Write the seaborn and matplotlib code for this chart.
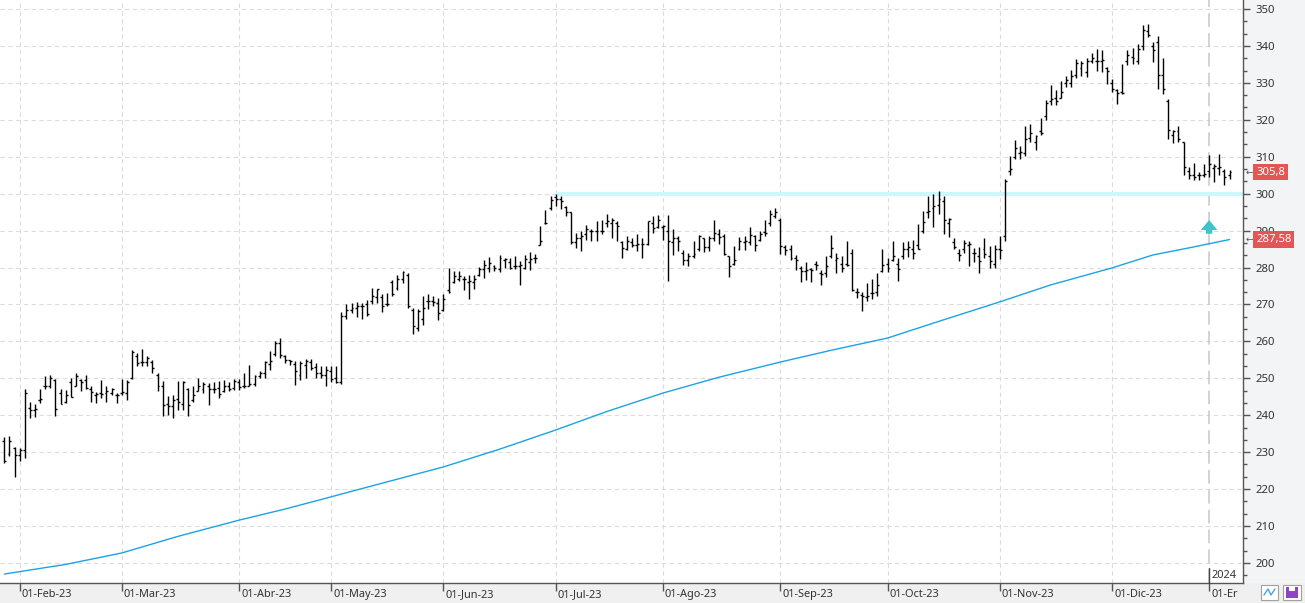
import numpy as np
import pandas as pd
import matplotlib
matplotlib.use("Agg")
import matplotlib.pyplot as plt
import seaborn as sns
from matplotlib.patches import Rectangle
from matplotlib.ticker import MultipleLocator
from matplotlib.transforms import blended_transform_factory, ScaledTranslation

# ---------------- data (daily OHLC, first bar 27-Jan-2023) ----------------
start_date = "2023-01-27"
holidays = ["2023-04-07", "2023-04-10", "2023-05-01", "2023-12-25", "2023-12-26", "2024-01-01"]

opens = [
    233.0, 229.5, 231.0, 229.3, 230.5, 242.0, 241.5, 244.0, 248.0, 248.0,
    249.5, 246.0, 243.5, 249.0, 248.0, 249.5, 249.5, 247.0, 245.5, 246.0,
    246.0, 246.0, 245.5, 246.0, 246.0, 250.0, 256.0, 254.5, 254.3, 254.5,
    251.0, 248.0, 243.0, 242.4, 244.5, 243.0, 247.0, 244.0, 246.5, 247.0,
    248.0, 247.0, 247.5, 246.5, 248.0, 247.5, 249.0, 248.0, 248.0, 248.5,
    250.5, 251.5, 254.0, 256.5, 259.5, 256.0, 255.0, 254.0, 251.0, 253.5,
    254.5, 253.0, 251.5, 251.0, 252.0, 250.0, 249.0, 267.0, 268.5, 269.0,
    269.5, 270.0, 271.0, 272.0, 272.0, 270.0, 276.0, 274.5, 277.0, 278.0,
    268.5, 263.5, 266.0, 271.0, 271.0, 270.5, 268.5, 274.0, 276.0, 277.0,
    277.0, 276.0, 276.0, 278.0, 279.5, 280.0, 280.5, 279.5, 282.0, 281.5,
    280.5, 280.5, 280.0, 281.5, 282.5, 286.0, 292.0, 296.0, 299.0, 298.5,
    296.5, 295.0, 287.0, 288.0, 289.0, 290.0, 290.0, 290.0, 292.0, 292.0,
    292.0, 287.0, 285.0, 287.0, 286.0, 286.5, 286.5, 292.0, 291.0, 291.0,
    290.0, 287.0, 288.0, 284.0, 282.0, 283.0, 285.0, 288.0, 285.5, 288.0,
    289.0, 288.5, 283.0, 281.0, 285.0, 287.0, 287.0, 288.5, 287.5, 289.5,
    292.0, 294.0, 293.0, 285.5, 285.0, 282.5, 280.0, 279.0, 279.5, 281.0,
    278.5, 278.5, 283.0, 282.0, 281.0, 281.0, 284.0, 273.5, 272.5, 272.0,
    273.0, 273.5, 279.0, 281.0, 282.0, 281.0, 283.0, 285.0, 285.0, 286.0,
    290.0, 295.0, 296.0, 297.0, 298.0, 292.0, 287.0, 284.0, 285.0, 286.0,
    284.0, 283.0, 285.0, 283.0, 281.0, 285.0, 288.5, 306.0, 310.0, 311.0,
    311.0, 315.0, 314.0, 317.0, 321.0, 325.0, 326.0, 326.0, 330.0, 330.0,
    332.0, 334.0, 333.0, 336.0, 336.0, 336.0, 334.0, 330.0, 328.0, 327.5,
    336.0, 337.0, 336.0, 340.0, 344.0, 340.0, 341.0, 332.0, 325.0, 316.0,
    317.0, 314.0, 306.0, 305.0, 305.0, 305.0, 306.0, 307.0, 307.0, 306.0,
    305.0,
]
highs = [
    234.0, 234.3, 231.4, 231.0, 247.0, 243.6, 243.0, 247.0, 250.5, 251.0,
    249.8, 247.0, 246.7, 250.2, 251.4, 249.8, 251.0, 247.8, 246.2, 249.6,
    247.8, 247.5, 246.0, 249.8, 249.6, 257.7, 256.8, 258.0, 256.1, 255.0,
    251.4, 249.2, 245.1, 245.5, 249.2, 249.2, 247.4, 247.8, 250.0, 248.9,
    248.7, 248.9, 249.2, 249.6, 248.9, 249.8, 249.8, 251.4, 253.7, 251.0,
    251.9, 254.6, 257.3, 260.0, 261.0, 256.4, 255.0, 254.6, 254.6, 255.2,
    255.2, 254.1, 253.2, 253.4, 253.2, 253.2, 268.0, 270.0, 270.5, 270.6,
    270.5, 271.2, 274.5, 274.3, 272.7, 273.0, 276.5, 277.9, 279.0, 278.4,
    269.1, 268.7, 272.4, 272.7, 272.3, 271.8, 272.7, 279.9, 279.0, 279.0,
    277.7, 277.9, 277.9, 280.2, 281.9, 282.9, 280.8, 283.4, 282.7, 282.5,
    283.1, 281.8, 283.3, 284.2, 283.6, 291.2, 295.5, 299.5, 300.0, 299.5,
    296.7, 295.0, 289.4, 289.9, 291.4, 290.3, 292.6, 293.0, 294.5, 293.5,
    292.7, 287.1, 288.5, 288.0, 289.1, 288.0, 292.7, 293.9, 294.2, 291.6,
    294.2, 290.3, 288.5, 284.8, 283.9, 287.1, 288.9, 288.0, 288.5, 293.0,
    290.5, 289.1, 283.0, 285.7, 288.2, 288.5, 291.0, 288.9, 290.0, 293.0,
    295.7, 296.0, 293.5, 286.2, 286.2, 283.5, 280.5, 281.6, 280.0, 281.8,
    279.4, 283.0, 288.9, 283.9, 283.0, 287.1, 284.9, 274.5, 273.4, 275.9,
    277.0, 278.6, 284.9, 282.7, 287.2, 282.7, 286.9, 287.2, 287.4, 291.7,
    295.3, 299.5, 299.8, 300.7, 299.4, 293.5, 288.1, 284.9, 287.4, 287.2,
    285.4, 285.6, 288.1, 285.8, 286.0, 288.5, 303.9, 310.1, 314.4, 312.8,
    318.4, 318.9, 315.9, 320.5, 325.4, 329.5, 328.1, 330.4, 331.9, 333.5,
    336.4, 335.8, 336.7, 338.0, 339.1, 338.9, 334.4, 331.0, 328.4, 335.2,
    338.8, 339.5, 340.6, 345.6, 345.9, 341.1, 342.6, 336.6, 325.5, 317.2,
    318.3, 314.0, 307.2, 308.3, 305.9, 308.1, 310.4, 308.0, 310.8, 306.8,
    306.3,
]
lows = [
    227.0, 229.0, 223.4, 227.5, 228.4, 239.2, 239.5, 243.3, 247.0, 247.4,
    239.9, 243.0, 243.3, 245.0, 247.8, 246.5, 247.0, 243.7, 243.3, 244.6,
    243.7, 245.5, 243.3, 245.5, 244.0, 249.8, 253.4, 253.2, 253.4, 251.4,
    246.5, 239.9, 240.1, 239.2, 241.5, 241.5, 239.7, 243.7, 246.5, 246.0,
    242.8, 246.0, 244.6, 246.2, 246.5, 246.9, 246.9, 247.5, 247.8, 247.8,
    250.0, 250.0, 252.3, 256.0, 255.5, 254.1, 253.7, 248.3, 249.6, 250.1,
    252.3, 250.1, 250.1, 247.8, 248.9, 248.7, 248.5, 266.0, 267.7, 266.7,
    266.1, 266.8, 270.0, 270.3, 267.9, 269.6, 272.4, 273.9, 275.9, 269.1,
    261.9, 262.8, 264.3, 268.8, 269.6, 265.8, 268.2, 273.2, 275.9, 276.3,
    273.8, 271.4, 274.1, 277.7, 277.2, 278.8, 279.0, 278.8, 279.9, 279.5,
    279.5, 275.2, 279.5, 279.3, 281.3, 286.0, 291.7, 295.6, 296.7, 295.9,
    294.0, 286.3, 285.4, 284.5, 287.4, 287.2, 287.2, 289.0, 290.9, 288.0,
    287.1, 282.5, 284.8, 285.5, 284.4, 282.7, 286.2, 289.4, 290.7, 287.5,
    276.4, 283.3, 284.4, 280.7, 280.3, 282.5, 284.4, 284.2, 284.4, 287.1,
    286.5, 283.5, 277.5, 280.7, 284.8, 284.8, 286.2, 284.4, 287.1, 288.5,
    291.2, 293.5, 283.6, 283.5, 282.1, 279.4, 276.0, 276.6, 276.0, 279.4,
    275.3, 277.5, 282.5, 278.5, 278.9, 280.5, 273.6, 271.8, 268.2, 270.9,
    271.4, 272.4, 278.8, 278.8, 281.8, 276.3, 282.2, 282.9, 282.2, 284.9,
    289.4, 293.5, 291.1, 294.4, 289.0, 288.3, 284.9, 281.8, 284.0, 280.4,
    281.5, 278.6, 282.7, 279.9, 279.9, 282.2, 287.2, 305.1, 309.4, 309.4,
    310.3, 313.9, 311.7, 315.9, 320.0, 324.1, 324.1, 325.9, 329.0, 329.0,
    331.3, 331.9, 331.7, 335.3, 333.3, 333.0, 329.6, 327.4, 324.4, 326.9,
    334.8, 335.2, 335.2, 339.0, 342.4, 335.7, 328.4, 327.1, 314.9, 313.6,
    314.1, 305.0, 304.1, 303.8, 303.8, 304.5, 304.5, 303.2, 305.0, 302.3,
    304.1,
]
closes = [
    227.5, 233.0, 229.3, 230.5, 246.0, 241.5, 241.7, 244.4, 247.8, 250.0,
    241.7, 243.0, 245.5, 245.0, 250.5, 249.0, 247.3, 246.2, 245.8, 245.8,
    246.5, 247.0, 245.5, 246.2, 249.0, 257.0, 254.1, 254.3, 255.5, 252.8,
    247.8, 242.8, 242.4, 244.2, 243.7, 248.9, 242.8, 245.5, 248.0, 248.5,
    247.1, 247.0, 245.8, 248.0, 247.1, 249.4, 247.6, 247.8, 248.4, 250.7,
    251.4, 254.3, 254.6, 259.5, 256.4, 255.0, 254.6, 251.9, 254.1, 254.6,
    252.8, 251.4, 251.0, 252.3, 249.8, 248.9, 267.0, 268.5, 269.1, 269.7,
    269.6, 267.3, 272.4, 274.1, 269.7, 270.0, 272.7, 276.8, 278.8, 269.6,
    264.1, 268.2, 269.1, 270.9, 270.6, 267.8, 271.5, 273.4, 277.7, 277.7,
    276.8, 276.3, 276.8, 279.5, 280.8, 281.3, 279.9, 282.5, 282.2, 279.9,
    280.4, 280.8, 282.2, 282.2, 282.7, 287.2, 292.1, 298.3, 298.5, 298.0,
    294.9, 286.9, 288.1, 288.5, 290.3, 289.9, 289.9, 290.0, 292.5, 293.0,
    291.2, 285.3, 287.1, 286.2, 286.4, 286.4, 292.5, 290.7, 293.0, 291.2,
    287.1, 288.0, 287.3, 282.1, 283.0, 283.6, 288.5, 285.5, 288.0, 289.4,
    288.2, 283.6, 280.3, 282.1, 287.1, 287.3, 288.9, 286.2, 289.1, 289.4,
    294.4, 295.1, 285.7, 284.8, 282.7, 282.1, 279.0, 279.3, 279.3, 280.7,
    278.2, 280.3, 285.3, 282.7, 280.0, 280.7, 273.9, 273.4, 272.3, 272.3,
    273.2, 275.4, 280.6, 279.9, 283.1, 279.5, 285.1, 285.6, 284.0, 285.1,
    292.3, 295.3, 296.7, 298.6, 293.0, 293.2, 285.6, 283.3, 286.7, 286.3,
    284.0, 281.8, 283.6, 281.8, 284.9, 284.7, 303.4, 306.7, 312.3, 311.4,
    314.8, 316.4, 315.5, 316.4, 324.5, 325.6, 325.2, 327.4, 330.8, 331.9,
    335.5, 335.3, 335.8, 336.7, 335.8, 336.3, 333.2, 328.4, 327.3, 327.3,
    337.5, 336.6, 339.3, 344.2, 342.9, 338.8, 332.0, 328.4, 317.2, 317.0,
    314.9, 307.2, 305.0, 304.5, 305.0, 305.4, 308.1, 307.4, 307.2, 304.5,
    305.8,
]

# 200-session moving average, read at a set of dates
sma_dates = ["2023-01-27", "2023-02-14", "2023-03-01", "2023-03-16", "2023-04-03",
             "2023-04-18", "2023-05-02", "2023-05-16", "2023-06-01", "2023-06-16",
             "2023-07-03", "2023-07-17", "2023-08-01", "2023-08-16", "2023-09-01",
             "2023-09-15", "2023-10-02", "2023-10-16", "2023-11-01", "2023-11-15",
             "2023-12-01", "2023-12-13", "2023-12-22", "2024-01-08"]
sma_values = [197.0, 199.6, 202.7, 207.2, 211.6, 214.6, 217.9, 221.6, 226.0, 230.8,
              236.0, 241.0, 246.0, 250.3, 254.4, 257.6, 260.9, 265.4, 270.7, 275.3,
              279.9, 283.4, 285.3, 287.58]

month_labels = ["01-Feb-23", "01-Mar-23", "01-Abr-23", "01-May-23", "01-Jun-23",
                "01-Jul-23", "01-Ago-23", "01-Sep-23", "01-Oct-23", "01-Nov-23",
                "01-Dic-23", "01-Er"]
month_starts = ["2023-02-01", "2023-03-01", "2023-04-01", "2023-05-01", "2023-06-01",
                "2023-07-01", "2023-08-01", "2023-09-01", "2023-10-01", "2023-11-01",
                "2023-12-01", "2024-01-01"]
resistance_level = 300.0
resistance_start = "2023-07-03"
last_close_label = "305,8"
sma_label = "287,58"
y_ticks = list(range(200, 351, 10))

# ---------------- build ----------------
dates = pd.bdate_range(start_date, periods=len(closes), freq="C", holidays=holidays)
pos = np.arange(len(dates))
month_pos = [int(np.searchsorted(dates.values, np.datetime64(m))) for m in month_starts]
sma_pos = dates.get_indexer(pd.to_datetime(sma_dates))
res_pos = int(dates.get_indexer(pd.to_datetime([resistance_start]))[0])

sns.set_theme(style="white")
plt.rcParams["font.family"] = ["Noto Sans", "DejaVu Sans"]

W, H = 1305, 603
fig = plt.figure(figsize=(W / 100, H / 100), dpi=100, facecolor="#f3f4f6")
fig.add_artist(Rectangle((0, 0), 1, 20 / H, transform=fig.transFigure,
                         facecolor="#f0f0f0", edgecolor="none", zorder=0))
ax = fig.add_axes([0, 20 / H, 1243 / W, 583 / H])
ax.set_facecolor("white")

xmin, xmax = -0.86, 242.64
ax.set_xlim(xmin, xmax)
ax.set_ylim(194.57, 352.44)

# grid
for v in y_ticks:
    ax.axhline(v, color="#dcdcdc", lw=0.8, ls=(0, (4, 3)), zorder=0)
for mp in month_pos[:-1]:
    ax.axvline(mp, color="#dcdcdc", lw=0.8, ls=(0, (4, 3)), zorder=0)
ax.axvline(month_pos[-1], color="#c8c8c8", lw=1.1, ls=(0, (9, 4)), zorder=0)

# resistance band
ax.hlines(resistance_level, res_pos, xmax, color="#cdf7fa", lw=3.0, zorder=1)

# 200-day moving average
sns.lineplot(x=sma_pos, y=sma_values, ax=ax, color="#1ca3e3", linewidth=1.0,
             legend=False, zorder=2)

# OHLC bars
ax.vlines(pos, lows, highs, color="black", lw=1.0, zorder=3)
ax.hlines(opens, pos - 0.38, pos, color="black", lw=1.0, zorder=3)
ax.hlines(closes, pos, pos + 0.38, color="black", lw=1.0, zorder=3)

# arrow marker
ax.annotate("", xy=(month_pos[-1], 293.6), xytext=(month_pos[-1], 288.4),
            arrowprops=dict(arrowstyle="simple,head_width=1.0,head_length=0.6,tail_width=0.38",
                            color="#38c6c8", lw=0), zorder=4)

# spines
for s in ["left", "top"]:
    ax.spines[s].set_visible(False)
for s in ["right", "bottom"]:
    ax.spines[s].set_color("#555555")
    ax.spines[s].set_linewidth(1.0)

# y axis on right
ax.yaxis.tick_right()
ax.set_yticks(y_ticks)
ax.yaxis.set_minor_locator(MultipleLocator(10 / 3))
ax.tick_params(axis="y", which="major", length=5, width=1, color="#555555",
               labelsize=8.2, labelcolor="#333333", pad=4.2, right=True, left=False)
ax.tick_params(axis="y", which="minor", length=3, width=1, color="#555555",
               right=True, left=False)

# x axis month ticks
ax.set_xticks(month_pos)
ax.set_xticklabels(month_labels)
ax.tick_params(axis="x", which="major", length=6, width=1, color="#555555",
               labelsize=7.9, labelcolor="#333333", pad=-1.5, bottom=True)
off = ScaledTranslation(2 / 100, 0, fig.dpi_scale_trans)
for lbl in ax.get_xticklabels():
    lbl.set_horizontalalignment("left")
    lbl.set_transform(lbl.get_transform() + off)

# year marker
bt = blended_transform_factory(ax.transData, ax.transAxes)
ax.plot([month_pos[-1], month_pos[-1]], [0, 0.026], transform=bt, color="#444444",
        lw=1.0, clip_on=False, zorder=5)
ax.text(month_pos[-1] + 0.4, 0.003, "2024", transform=bt, ha="left", va="bottom",
        fontsize=7.9, color="#333333", zorder=5)

# value labels on right axis
rt = blended_transform_factory(ax.transAxes, ax.transData)
for val, txt in [(305.8, last_close_label), (287.58, sma_label)]:
    ax.text(1.0105, val, txt, transform=rt, ha="left", va="center", fontsize=8.2,
            color="white", clip_on=False, zorder=10,
            bbox=dict(boxstyle="square,pad=0.24", facecolor="#e25656", edgecolor="none"))
    ax.text(1.0022, val, "\u2190", transform=rt, ha="left", va="center", fontsize=6.5,
            color="#555555", clip_on=False, zorder=10, family="DejaVu Sans")

# small toolbar icons bottom-right
def px_rect(x0, y0, w, h, **kw):
    fig.add_artist(Rectangle((x0 / W, (H - y0 - h) / H), w / W, h / H,
                             transform=fig.transFigure, **kw))

px_rect(1261, 585, 17, 15, facecolor="white", edgecolor="#a0a0a0", lw=0.8)
fig.add_artist(plt.Line2D([1264 / W, 1268 / W, 1271 / W, 1275 / W],
                          [(H - 595) / H, (H - 589) / H, (H - 595) / H, (H - 589) / H],
                          transform=fig.transFigure, color="#4aa3df", lw=1.0))
px_rect(1283, 585, 18, 15, facecolor="white", edgecolor="#a0a0a0", lw=0.8)
px_rect(1286, 587, 12, 11, facecolor="#8e44c4", edgecolor="none")
px_rect(1289, 587, 6, 4, facecolor="white", edgecolor="none")

fig.savefig("out.png", dpi=100, facecolor=fig.get_facecolor())
